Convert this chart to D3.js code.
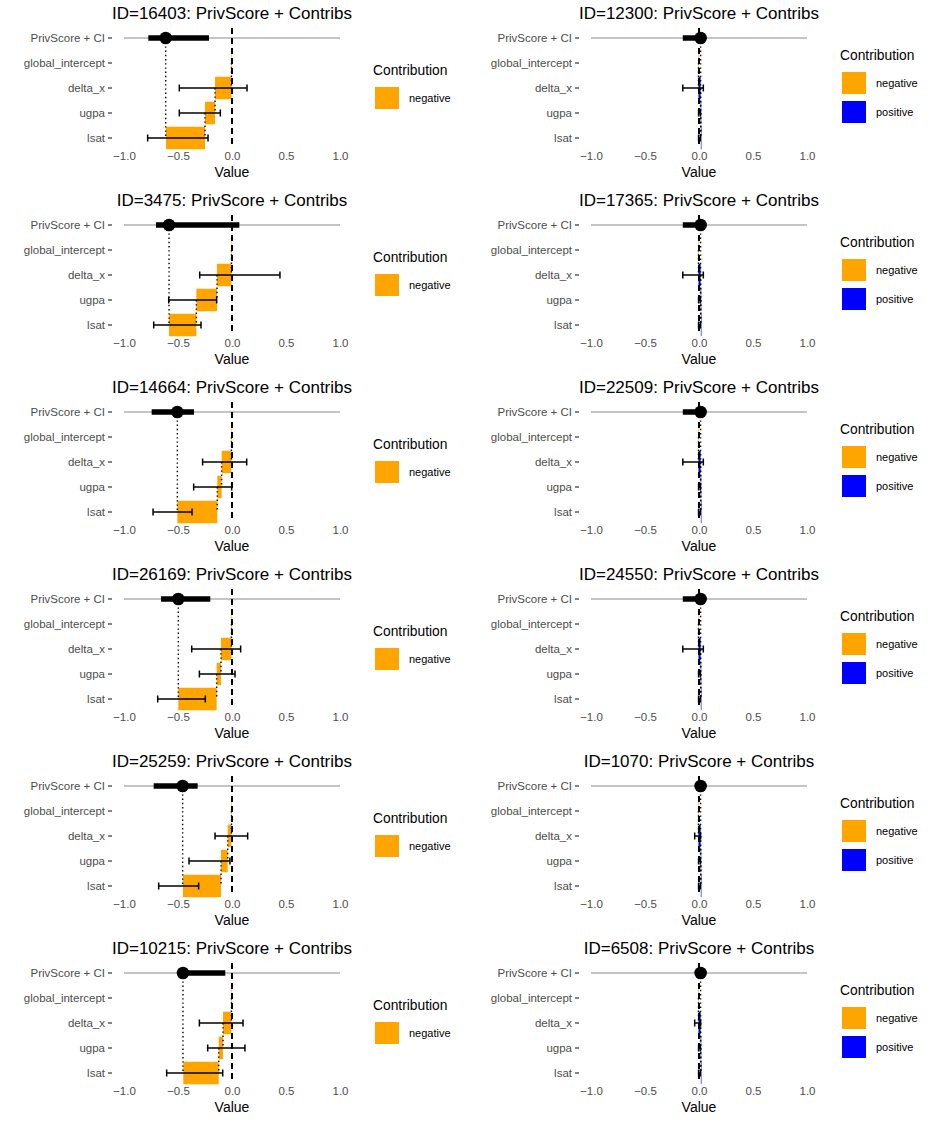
<!DOCTYPE html>
<html>
<head>
<meta charset="utf-8">
<script src="https://cdn.jsdelivr.net/npm/d3@7"></script>
<style>
  body { margin: 0; background: #fff; }
  svg { display: block; font-family: "Liberation Sans", Arial, Helvetica, sans-serif; }
</style>
</head>
<body>
<svg id="chart" width="934" height="1121"></svg>
<script>
// ---------------- DATA ----------------
const panelIds = ["16403","12300","3475","17365","14664","22509","26169","24550","25259","1070","10215","6508"];
const categories = ["PrivScore + CI","global_intercept","delta_x","ugpa","lsat"];
const features = ["global_intercept","delta_x","ugpa","lsat"];
const xTicks = [-1, -0.5, 0, 0.5, 1];

const privScore = [-0.614, 0.015, -0.583, 0.015, -0.506, 0.015, -0.497, 0.015, -0.457, 0.015, -0.454, 0.015];
const ciLow     = [-0.775, -0.150, -0.704, -0.150, -0.744, -0.150, -0.657, -0.150, -0.725, 0.000, -0.470, 0.000];
const ciHigh    = [-0.213, 0.020, 0.068, 0.020, -0.352, 0.020, -0.201, 0.020, -0.318, 0.025, -0.062, 0.025];

const contribGlobal = [-0.005, -0.005, -0.005, -0.005, -0.005, -0.005, -0.005, -0.005, -0.005, -0.005, -0.005, -0.005];
const contribDeltaX = [-0.152, 0.020, -0.134, 0.020, -0.091, 0.020, -0.097, 0.020, -0.035, 0.020, -0.078, 0.020];
const contribUgpa   = [-0.093, 0.002, -0.191, 0.002, -0.040, 0.002, -0.040, 0.002, -0.062, 0.002, -0.040, 0.002];
const contribLsat   = [-0.361, 0.002, -0.253, 0.002, -0.370, 0.002, -0.355, 0.002, -0.352, 0.002, -0.328, 0.002];

const ebDeltaXLow  = [-0.488, -0.150, -0.299, -0.150, -0.272, -0.150, -0.373, -0.150, -0.157, -0.040, -0.302, -0.040];
const ebDeltaXHigh = [0.139, 0.040, 0.444, 0.040, 0.136, 0.040, 0.080, 0.040, 0.145, 0.015, 0.102, 0.015];
const ebUgpaLow    = [-0.488, -0.004, -0.586, -0.004, -0.355, -0.004, -0.302, -0.004, -0.398, -0.004, -0.225, -0.004];
const ebUgpaHigh   = [-0.108, 0.012, -0.142, 0.012, -0.003, 0.012, 0.028, 0.012, -0.019, 0.012, 0.120, 0.012];
const ebLsatLow    = [-0.781, -0.004, -0.725, -0.004, -0.731, -0.004, -0.688, -0.004, -0.679, -0.004, -0.605, -0.004];
const ebLsatHigh   = [-0.222, 0.012, -0.287, 0.012, -0.370, 0.012, -0.247, 0.012, -0.309, 0.012, -0.086, 0.012];

const legendCats = ["negative","positive"];
const colors = { negative: "#FFA500", positive: "#0000FF" };

// ---------------- DRAW ----------------
const svg = d3.select("#chart");
const panelW = 467, panelH = 187;
const x = d3.scaleLinear().domain([-1, 1]).range([124, 340]);
const y = d3.scaleBand().domain(categories).range([25.5, 150.5]).paddingInner(0.1).paddingOuter(0.05);
const yc = c => y(c) + y.bandwidth() / 2;
const fmt = d3.format(".1f");

panelIds.forEach((id, i) => {
  const col = i % 2, row = Math.floor(i / 2);
  const g = svg.append("g").attr("transform", `translate(${col * panelW},${row * panelH})`);

  const contribs = [contribGlobal[i], contribDeltaX[i], contribUgpa[i], contribLsat[i]];
  const ebs = [null, [ebDeltaXLow[i], ebDeltaXHigh[i]], [ebUgpaLow[i], ebUgpaHigh[i]], [ebLsatLow[i], ebLsatHigh[i]]];
  let cum = 0;
  const bars = features.map((f, k) => {
    const start = cum; cum += contribs[k];
    return { f, start, end: cum, v: contribs[k], sign: contribs[k] < 0 ? "negative" : "positive", eb: ebs[k] };
  });

  // title
  g.append("text").attr("x", 232).attr("y", 19).attr("text-anchor", "middle")
    .attr("font-size", 17).attr("fill", "#000").text(`ID=${id}: PrivScore + Contribs`);

  // grey reference line at PrivScore row
  g.append("line").attr("x1", x(-1)).attr("x2", x(1))
    .attr("y1", yc(categories[0])).attr("y2", yc(categories[0]))
    .attr("stroke", "#c4c4c4").attr("stroke-width", 2);

  // bars
  g.selectAll("rect.bar").data(bars).join("rect").attr("class", "bar")
    .attr("x", d => x(Math.min(d.start, d.end)))
    .attr("width", d => Math.max(0.6, Math.abs(x(d.end) - x(d.start))))
    .attr("y", d => y(d.f)).attr("height", y.bandwidth())
    .attr("fill", d => colors[d.sign]);

  // dashed zero line
  g.append("line").attr("x1", x(0)).attr("x2", x(0)).attr("y1", 28).attr("y2", 148)
    .attr("stroke", "#000").attr("stroke-width", 2).attr("stroke-dasharray", "6,4");

  // dotted connectors
  bars.forEach((d, k) => {
    if (k < bars.length - 1) {
      g.append("line").attr("x1", x(d.end)).attr("x2", x(d.end))
        .attr("y1", yc(d.f)).attr("y2", yc(bars[k + 1].f))
        .attr("stroke", "#000").attr("stroke-width", 1.4).attr("stroke-dasharray", "1.4,2.8");
    }
  });
  g.append("line").attr("x1", x(privScore[i])).attr("x2", x(privScore[i]))
    .attr("y1", yc(categories[0])).attr("y2", yc("lsat"))
    .attr("stroke", "#000").attr("stroke-width", 1.4).attr("stroke-dasharray", "1.4,2.8");

  // error bars
  bars.filter(d => d.eb).forEach(d => {
    const cy = yc(d.f);
    g.append("line").attr("x1", x(d.eb[0])).attr("x2", x(d.eb[1])).attr("y1", cy).attr("y2", cy)
      .attr("stroke", "#000").attr("stroke-width", 1.5);
    d.eb.forEach(v => {
      g.append("line").attr("x1", x(v)).attr("x2", x(v)).attr("y1", cy - 3.5).attr("y2", cy + 3.5)
        .attr("stroke", "#000").attr("stroke-width", 1.5);
    });
  });

  // CI and point
  const sy = yc(categories[0]);
  g.append("line").attr("x1", x(ciLow[i])).attr("x2", x(ciHigh[i])).attr("y1", sy).attr("y2", sy)
    .attr("stroke", "#000").attr("stroke-width", 5.5);
  g.append("circle").attr("cx", x(privScore[i])).attr("cy", sy).attr("r", 6.3).attr("fill", "#000");

  // y axis
  const ya = g.append("g").attr("transform", "translate(112,0)")
    .call(d3.axisLeft(y).tickSize(4).tickPadding(3));
  ya.select(".domain").remove();
  ya.selectAll(".tick line").attr("stroke", "#333").attr("stroke-width", 1.2);
  ya.selectAll(".tick text").attr("fill", "#4d4d4d").attr("font-size", 11.5)
    .attr("font-family", "'Liberation Sans', Arial, sans-serif");

  // x axis
  const xa = g.append("g").attr("transform", "translate(0,152)")
    .call(d3.axisBottom(x).tickValues(xTicks).tickFormat(fmt).tickSize(0).tickPadding(0));
  xa.select(".domain").remove();
  xa.selectAll(".tick text").attr("fill", "#4d4d4d").attr("font-size", 11.5)
    .attr("font-family", "'Liberation Sans', Arial, sans-serif");

  g.append("text").attr("x", 232).attr("y", 177).attr("text-anchor", "middle")
    .attr("font-size", 14).attr("fill", "#000").text("Value");

  // legend
  const present = legendCats.filter(c => bars.some(b => b.sign === c));
  const n = present.length;
  const tBase = 90 - 15 * n;
  g.append("text").attr("x", 373).attr("y", tBase).attr("font-size", 13.8).attr("fill", "#000").text("Contribution");
  present.forEach((c, k) => {
    const top = tBase + 12 + k * 29;
    g.append("rect").attr("x", 375).attr("y", top).attr("width", 24).attr("height", 22).attr("fill", colors[c]);
    g.append("text").attr("x", 409).attr("y", top + 15).attr("font-size", 11).attr("fill", "#000").text(c);
  });
});
</script>
</body>
</html>
